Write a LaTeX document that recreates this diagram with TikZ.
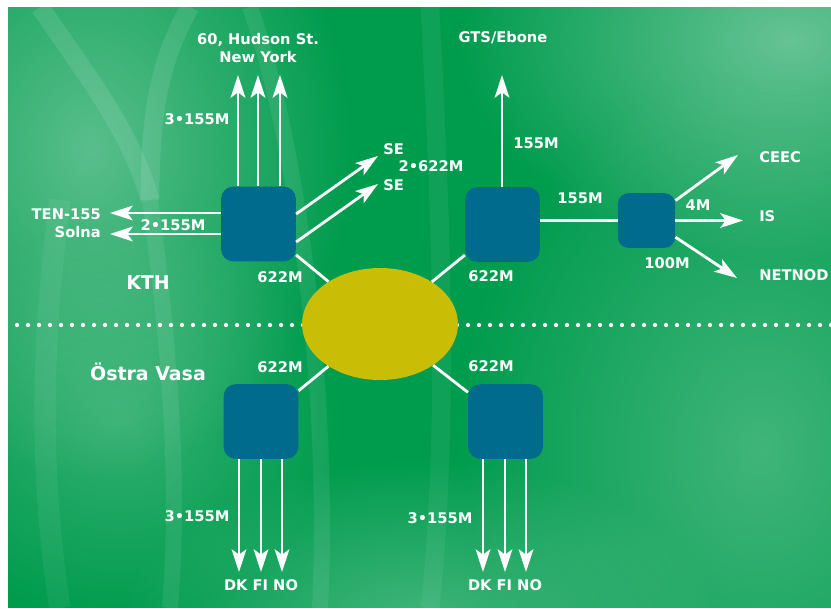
\documentclass[tikz,border=0pt]{standalone}
\usepackage{fontspec}
\setmainfont{DejaVu Sans}
\usetikzlibrary{arrows.meta,shapes.geometric,fadings}

\definecolor{bggreen}{RGB}{0,156,78}
\definecolor{boxblue}{RGB}{0,107,140}
\definecolor{hubyellow}{RGB}{201,189,5}
\tikzfading[name=softblob, inner color=transparent!0, outer color=transparent!100]

\begin{document}
\begin{tikzpicture}[x=0.75pt, y=-0.75pt,
    router/.style = {fill=boxblue, rounded corners=9pt, minimum width=56pt, minimum height=56pt, inner sep=0pt},
    hub/.style = {fill=hubyellow, ellipse, minimum width=117pt, minimum height=84pt, inner sep=0pt},
    lbl/.style = {text=white, align=center, inner sep=0pt, font=\bfseries\fontsize{11}{13.5}\selectfont},
    site/.style = {text=white, inner sep=0pt, font=\bfseries\fontsize{14.2}{16}\selectfont},
    link/.style = {white, line width=2.1pt},
    arr/.style = {link, -{Stealth[length=17pt, width=11pt, inset=4pt]}}]

    % page and background
    \fill[white] (0,0) rectangle (831,608);
    \useasboundingbox (0,0) rectangle (831,608);
    \fill[bggreen] (8,7) rectangle (831,608);
    \begin{scope}
        \clip (8,7) rectangle (831,608);
        \fill[white, opacity=0.35, path fading=softblob] (90,150) ellipse (260 and 330);
        \fill[white, opacity=0.40, path fading=softblob] (790,40) ellipse (330 and 220);
        \fill[white, opacity=0.25, path fading=softblob] (760,450) ellipse (300 and 380);
        \fill[white, opacity=0.25, path fading=softblob] (420,620) ellipse (300 and 160);
        \fill[white, opacity=0.20, path fading=softblob] (120,420) ellipse (220 and 200);
        \draw[white, opacity=0.10, line width=14pt] (40,7) .. controls (90,80) and (130,130) .. (150,200);
        \draw[white, opacity=0.10, line width=14pt] (190,7) .. controls (160,60) and (150,110) .. (150,200);
        \draw[white, opacity=0.08, line width=12pt] (150,200) .. controls (170,350) and (180,480) .. (170,608);
        \draw[white, opacity=0.08, line width=12pt] (250,7) .. controls (300,150) and (330,400) .. (320,608);
        \draw[white, opacity=0.06, line width=16pt] (60,200) .. controls (40,350) and (40,480) .. (60,608);
        \draw[white, opacity=0.06, line width=14pt] (430,7) .. controls (440,200) and (450,420) .. (430,608);
    \end{scope}

    % site divider
    \draw[white, line width=3.2pt, line cap=round, dash pattern=on 0pt off 8.25pt] (17,325) -- (831,325);

    % routers
    \node[hub] (hub) at (380,324) {};
    \node[router] (kth) at (258.5,224) {};
    \node[router] (gts) at (502.5,224.5) {};
    \node[router, minimum width=43pt, minimum height=41pt, rounded corners=8pt] (ix) at (646.5,220.5) {};
    \node[router] (ov) at (261,421.5) {};
    \node[router] (ovb) at (505.5,421.5) {};

    % free ends
    \coordinate (nyA) at (238,75);
    \coordinate (nyB) at (258,75);
    \coordinate (nyC) at (280,75);
    \coordinate (tenA) at (110,213);
    \coordinate (tenB) at (110,234);
    \coordinate (seA) at (378,156);
    \coordinate (seB) at (378,184);
    \coordinate (ebone) at (502,75);
    \coordinate (ceec) at (738,155);
    \coordinate (is) at (743,220.5);
    \coordinate (netnod) at (737,278);
    \coordinate (dkA) at (239,572);
    \coordinate (dkB) at (261,572);
    \coordinate (dkC) at (282,572);
    \coordinate (dkD) at (483,572);
    \coordinate (dkE) at (505,572);
    \coordinate (dkF) at (526,572);

    % links
    \draw[link] (kth) -- (hub);
    \draw[link] (gts) -- (hub);
    \draw[link] (ov) -- (hub);
    \draw[link] (ovb) -- (hub);
    \draw[link] (gts.east |- ix) -- (ix.west);

    \draw[arr] (kth.north -| nyA) -- (nyA);
    \draw[arr] (kth.north -| nyB) -- (nyB);
    \draw[arr] (kth.north -| nyC) -- (nyC);
    \draw[arr] (kth.west |- tenA) -- (tenA);
    \draw[arr] (kth.west |- tenB) -- (tenB);
    \draw[arr] ([yshift=7.5pt]kth.east) -- (seA);
    \draw[arr] ([yshift=-13.5pt]kth.east) -- (seB);
    \draw[arr] (gts.north -| ebone) -- (ebone);
    \draw[arr] ([yshift=15pt]ix.east) -- (ceec);
    \draw[arr] (ix.east) -- (is);
    \draw[arr] ([yshift=-12.5pt]ix.east) -- (netnod);
    \draw[arr] (ov.south -| dkA) -- (dkA);
    \draw[arr] (ov.south -| dkB) -- (dkB);
    \draw[arr] (ov.south -| dkC) -- (dkC);
    \draw[arr] (ovb.south -| dkD) -- (dkD);
    \draw[arr] (ovb.south -| dkE) -- (dkE);
    \draw[arr] (ovb.south -| dkF) -- (dkF);

    % labels
    \node[lbl] (nylbl) at (258,48) {60, Hudson St.\\New York};
    \node[lbl] (nyrate) at (197,119) {3•155M};
    \node[lbl, align=right, anchor=east] (tenlbl) at (101,223.5) {TEN-155\\Solna};
    \node[lbl] (tenrate) at (173,225) {2•155M};
    \node[lbl, anchor=west] (selblA) at (383,149) {SE};
    \node[lbl, anchor=west] (selblB) at (383,185) {SE};
    \node[lbl] (serate) at (431,166) {2•622M};
    \node[lbl] (kthrate) at (280,277) {622M};
    \node[site] (kthlbl) at (148,283) {KTH};
    \node[lbl] (ebonelbl) at (503,38) {GTS/Ebone};
    \node[lbl] (eborate) at (536,143) {155M};
    \node[lbl] (ixrate) at (580,198) {155M};
    \node[lbl] (gtsrate) at (491,276) {622M};
    \node[lbl, anchor=west] (ceeclbl) at (759,157) {CEEC};
    \node[lbl, anchor=west] (islbl) at (759,216) {IS};
    \node[lbl, anchor=west] (netlbl) at (759,275) {NETNOD};
    \node[lbl] (israte) at (698,205) {4M};
    \node[lbl] (netrate) at (667,263) {100M};
    \node[site] (ovlbl) at (148,372) {Östra Vasa};
    \node[lbl] (ovrate) at (280,367) {622M};
    \node[lbl] (ovbrate) at (491,366) {622M};
    \node[lbl] (dkrateA) at (197,516) {3•155M};
    \node[lbl] (dkrateB) at (440,518) {3•155M};
    \node[lbl] (dklblA) at (261,585) {DK FI NO};
    \node[lbl] (dklblB) at (505,585) {DK FI NO};

\end{tikzpicture}
\end{document}
